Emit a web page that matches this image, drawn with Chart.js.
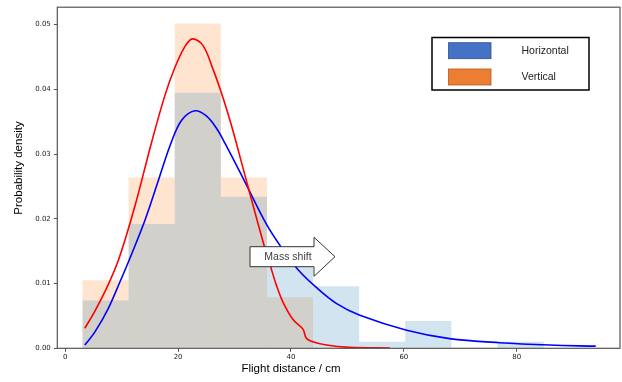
<!DOCTYPE html>
<html>
<head>
<meta charset="utf-8">
<script src="https://cdn.jsdelivr.net/npm/chart.js@4/dist/chart.umd.min.js"></script>
<style>
  html, body { margin: 0; padding: 0; background: #fff; }
  #wrap { width: 622px; height: 382px; position: relative; }
</style>
</head>
<body>
<div id="wrap"><canvas id="chart"></canvas></div>
<script>
// tick labels
const xTicks = [0, 20, 40, 60, 80];
const yTicks = [0, 0.01, 0.02, 0.03, 0.04, 0.05];

// histogram bins (centres, cm) and densities
const binCenters = [7.15, 15.32, 23.49, 31.66, 39.83, 48.0, 56.17, 64.34, 72.51, 80.68];
const horizontalDensity = [0.0074, 0.0192, 0.0395, 0.0234, 0.0135, 0.0096, 0.0010, 0.0042, 0, 0.0010];
const verticalDensity = [0.0105, 0.0264, 0.0502, 0.0264, 0.0079, 0, 0, 0, 0, 0];

// fitted curves
const verticalCurveX = [3.47, 5.24, 7.6, 9.55, 12.33, 15.3, 17.64, 19.4, 21.2, 22.55, 24.4, 26.2, 27.7, 29.2, 30.2, 32.1, 35.2, 36.4, 37.4, 38.6, 40.4, 42.1, 42.7, 43.6, 46.3, 50.4, 57.5];
const verticalCurveY = [0.0031, 0.0057, 0.0098, 0.0139, 0.0219, 0.0318, 0.0390, 0.0433, 0.0466, 0.0478, 0.0468, 0.0431, 0.0394, 0.0352, 0.0321, 0.0259, 0.0160, 0.0126, 0.0098, 0.0071, 0.0044, 0.0030, 0.0016, 0.0011, 0.0005, 0.00015, 0.00004];
const horizontalCurveX = [3.47, 5.24, 7.6, 9.67, 11.74, 14.1, 16.46, 18.65, 20.6, 22.96, 25.0, 26.8, 28.3, 31.5, 35.7, 38.6, 41.3, 44.5, 48.1, 52.2, 60.5, 68.1, 77.0, 85.8, 94.0];
const horizontalCurveY = [0.0005, 0.0025, 0.0061, 0.0102, 0.0145, 0.0197, 0.0258, 0.0315, 0.0352, 0.0367, 0.0359, 0.0340, 0.0317, 0.0263, 0.0191, 0.0152, 0.0121, 0.0094, 0.0069, 0.0051, 0.0028, 0.0015, 0.00086, 0.0005, 0.00033];

const seriesNames = ['Horizontal', 'Vertical'];

function pairs(xs, ys) {
    return xs.map((x, i) => ({ x: x, y: ys[i] }));
}

// legend box, arrow and axis titles drawn on top, like the pasted shapes in the source
const overlay = {
    id: 'overlay',
    afterDraw(chart) {
        const ctx = chart.ctx;
        const a = chart.chartArea;
        ctx.save();

        // frame
        ctx.strokeStyle = '#555';
        ctx.lineWidth = 1.2;
        ctx.strokeRect(a.left, a.top, a.right - a.left, a.bottom - a.top);

        // arrow "Mass shift"
        ctx.beginPath();
        ctx.moveTo(250, 246.7);
        ctx.lineTo(314, 246.7);
        ctx.lineTo(314, 237.3);
        ctx.lineTo(335, 256.7);
        ctx.lineTo(314, 276.3);
        ctx.lineTo(314, 266.7);
        ctx.lineTo(250, 266.7);
        ctx.closePath();
        ctx.fillStyle = '#fff';
        ctx.fill();
        ctx.strokeStyle = '#333';
        ctx.lineWidth = 1;
        ctx.stroke();
        ctx.fillStyle = '#404040';
        ctx.font = '10.5px "Liberation Sans", Arial, sans-serif';
        ctx.textAlign = 'center';
        ctx.textBaseline = 'middle';
        ctx.fillText('Mass shift', 288, 257);

        // legend
        ctx.fillStyle = '#fff';
        ctx.fillRect(432, 37.5, 157, 52.5);
        ctx.strokeStyle = '#000';
        ctx.lineWidth = 1.5;
        ctx.strokeRect(432, 37.5, 157, 52.5);
        const patches = [['#4472C4', '#2F528F', 42.7], ['#ED7D31', '#AE5A21', 69]];
        patches.forEach((p, i) => {
            ctx.fillStyle = p[0];
            ctx.fillRect(448.5, p[2], 42.5, 16);
            ctx.strokeStyle = p[1];
            ctx.lineWidth = 0.8;
            ctx.strokeRect(448.5, p[2], 42.5, 16);
            ctx.fillStyle = '#222';
            ctx.font = '10.5px "Liberation Sans", Arial, sans-serif';
            ctx.textAlign = 'left';
            ctx.textBaseline = 'middle';
            ctx.fillText(seriesNames[i], 521.5, p[2] + 8.5);
        });

        // axis titles
        ctx.fillStyle = '#000';
        ctx.font = '11.5px "Liberation Sans", Arial, sans-serif';
        ctx.textAlign = 'center';
        ctx.textBaseline = 'middle';
        ctx.fillText('Flight distance / cm', 291, 369);
        ctx.translate(19, 168);
        ctx.rotate(-Math.PI / 2);
        ctx.fillText('Probability density', 0, 0);
        ctx.restore();
    }
};

const ctx = document.getElementById('chart').getContext('2d');
new Chart(ctx, {
    type: 'line',
    data: {
        datasets: [
            {
                type: 'line',
                label: 'Vertical fit',
                data: pairs(verticalCurveX, verticalCurveY),
                borderColor: '#ff0000',
                borderWidth: 1.6,
                pointRadius: 0,
                tension: 0.35,
                fill: false,
                order: 0
            },
            {
                type: 'line',
                label: 'Horizontal fit',
                data: pairs(horizontalCurveX, horizontalCurveY),
                borderColor: '#0000ff',
                borderWidth: 1.6,
                pointRadius: 0,
                tension: 0.35,
                fill: false,
                order: 1
            },
            {
                type: 'bar',
                label: 'Horizontal',
                data: pairs(binCenters, horizontalDensity),
                backgroundColor: 'rgba(31,119,180,0.2)',
                borderWidth: 0,
                inflateAmount: 0,
                grouped: false,
                barPercentage: 1,
                categoryPercentage: 1,
                order: 2
            },
            {
                type: 'bar',
                label: 'Vertical',
                data: pairs(binCenters, verticalDensity),
                backgroundColor: 'rgba(255,127,14,0.2)',
                borderWidth: 0,
                inflateAmount: 0,
                grouped: false,
                barPercentage: 1,
                categoryPercentage: 1,
                order: 3
            }
        ]
    },
    options: {
        responsive: true,
        maintainAspectRatio: false,
        animation: false,
        layout: { padding: { top: 5.3, right: 2, left: 0, bottom: 0 } },
        plugins: {
            legend: { display: false },
            tooltip: { enabled: false }
        },
        scales: {
            x: {
                type: 'linear',
                min: -1.4,
                max: 98.3,
                offset: false,
                afterBuildTicks(scale) {
                    scale.ticks = xTicks.map(v => ({ value: v }));
                },
                afterFit(scale) { scale.height = 33.7; },
                grid: { offset: false, drawOnChartArea: false, drawTicks: true, tickLength: 3.5, color: '#555' },
                border: { display: false },
                ticks: {
                    padding: 1,
                    color: '#222',
                    font: { family: '"DejaVu Sans", sans-serif', size: 7 },
                    maxRotation: 0
                }
            },
            y: {
                type: 'linear',
                min: 0,
                max: 0.0527,
                afterBuildTicks(scale) {
                    scale.ticks = yTicks.map(v => ({ value: v }));
                },
                afterFit(scale) { scale.width = 57.3; },
                grid: { offset: false, drawOnChartArea: false, drawTicks: true, tickLength: 3.5, color: '#555' },
                border: { display: false },
                ticks: {
                    padding: 3,
                    color: '#222',
                    font: { family: '"DejaVu Sans", sans-serif', size: 7 },
                    callback: v => v.toFixed(2)
                }
            }
        }
    },
    plugins: [overlay]
});
</script>
</body>
</html>
